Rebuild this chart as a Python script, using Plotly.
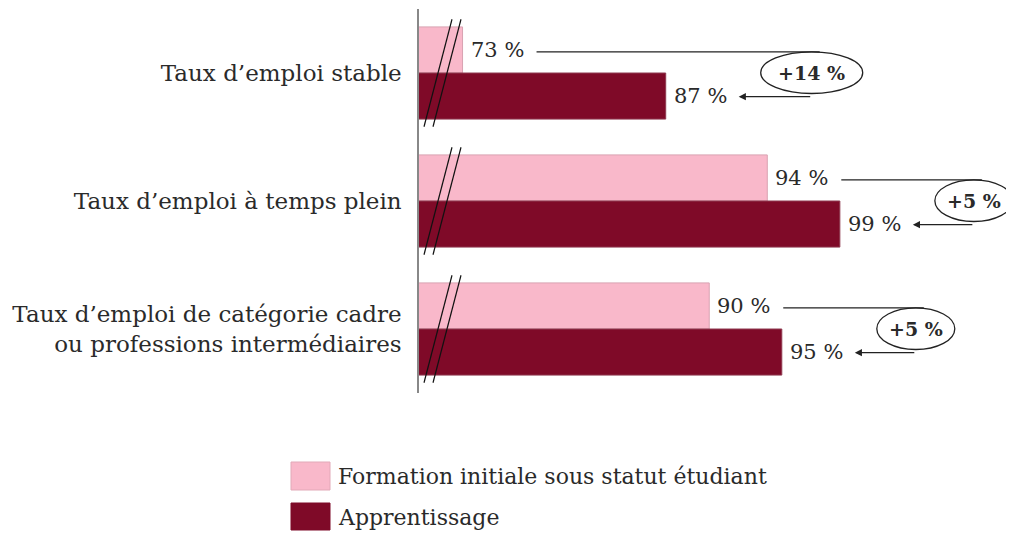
import plotly.graph_objects as go

# ---- data ----
categories = [
    "Taux d’emploi stable",
    "Taux d’emploi à temps plein",
    "Taux d’emploi de catégorie cadre<br>ou professions intermédiaires",
]
etudiant = [73, 94, 90]
apprentissage = [87, 99, 95]
series_names = ["Formation initiale sous statut étudiant", "Apprentissage"]

PINK = "#F9B8CA"
DARK = "#7F0A28"
FONT = "DejaVu Serif"
TXT = "#2a2a2a"

# page has an 8px body margin: figure drawn at page offset (8, 8)
OFF = 8
W, H = 1014 - OFF, 534 - OFF
ML, MR, MT = 419 - OFF, 0, 9 - OFF
PLOT_BOTTOM = 393 - OFF
MB = H - PLOT_BOTTOM
X0, X1 = 70, 111
pw = W - ML - MR
ph = H - MT - MB
PXU = pw / (X1 - X0)  # pixels per data unit

ypos = list(range(len(categories)))

fig = go.Figure()
fig.add_trace(go.Bar(y=ypos, x=etudiant, orientation="h", name=series_names[0],
                     marker=dict(color=PINK, line=dict(color="#d9a3b2", width=1)),
                     showlegend=False))
fig.add_trace(go.Bar(y=ypos, x=apprentissage, orientation="h", name=series_names[1],
                     marker=dict(color=DARK, line=dict(color="#8f3a50", width=1)),
                     showlegend=False))

shapes = []
annotations = []
half = 0.18  # offset of each bar center from category center
lbl_font = dict(size=21, color=TXT, family=FONT)

for i, (e, a) in enumerate(zip(etudiant, apprentissage)):
    gain = f"+{a - e} %"
    rx = 51 if len(gain) > 4 else 39
    cx = 95 + rx  # pixel offset of ellipse centre from end of apprentissage bar
    # value labels
    annotations.append(dict(x=e, y=i - half, text=f"{e} %", showarrow=False,
                            xanchor="left", xshift=6, font=lbl_font))
    annotations.append(dict(x=a, y=i + half, text=f"{a} %", showarrow=False,
                            xanchor="left", xshift=6, font=lbl_font))
    # top connector line from etudiant label to ellipse top
    shapes.append(dict(type="line", xref="x", yref="y", xsizemode="pixel", xanchor=e,
                       x0=74, x1=(a - e) * PXU + cx + 8,
                       y0=i - 0.165, y1=i - 0.165, line=dict(color="#222", width=1.3)))
    # ellipse
    shapes.append(dict(type="circle", xref="x", yref="y", xsizemode="pixel", xanchor=a,
                       x0=cx - rx, x1=cx + rx, y0=i - 0.165, y1=i + 0.16,
                       line=dict(color="#222", width=1.3), fillcolor="rgba(0,0,0,0)"))
    # gain text
    annotations.append(dict(x=a, y=i + 0.0, text=f"<b>{gain}</b>", showarrow=False,
                            xanchor="center", xshift=cx, font=dict(size=19, color=TXT, family=FONT)))
    # bottom arrow to apprentissage label
    annotations.append(dict(x=a, y=i + 0.185, text="", showarrow=True, xshift=73,
                            ax=cx - 73, ay=0, arrowhead=2, arrowsize=1.1, arrowwidth=1.3,
                            arrowcolor="#222"))
    # axis break marks
    for dx in (0, 9):
        shapes.append(dict(type="line", xref="x", yref="y", xsizemode="pixel", xanchor=X0,
                           x0=5 + dx, x1=33 + dx, y0=i + 0.42, y1=i - 0.42,
                           line=dict(color="#111", width=1.2)))


def px(xp):
    return (xp - OFF - ML) / pw


def py(yp):
    return 1 - (yp - OFF - MT) / ph


legend_rows = [(series_names[0], PINK, "#e2a9b8", 462, 490, 476),
               (series_names[1], DARK, "#7F0A28", 503, 530, 517)]
for name, col, lc, ytop, ybot, ymid in legend_rows:
    shapes.append(dict(type="rect", xref="paper", yref="paper",
                       x0=px(291), x1=px(330), y0=py(ybot), y1=py(ytop),
                       fillcolor=col, line=dict(color=lc, width=1)))
    annotations.append(dict(xref="paper", yref="paper", x=px(336), y=py(ymid),
                            text=name, showarrow=False, xanchor="left", yanchor="middle",
                            font=dict(size=22, color=TXT, family=FONT)))

fig.update_layout(
    width=W, height=H,
    margin=dict(l=ML, r=MR, t=MT, b=MB),
    paper_bgcolor="white", plot_bgcolor="white",
    barmode="group", bargap=0.28, bargroupgap=0,
    shapes=shapes, annotations=annotations,
    font=dict(family=FONT, color=TXT),
)
fig.update_xaxes(range=[X0, X1], visible=False, showgrid=False, zeroline=False)
fig.update_yaxes(range=[2.5, -0.5], tickvals=ypos, ticktext=categories,
                 showline=True, linecolor="#888", linewidth=1.5, showgrid=False,
                 zeroline=False, ticks="", ticklabelstandoff=11,
                 tickfont=dict(size=23, color=TXT, family=FONT))

fig.write_html("out.html")
